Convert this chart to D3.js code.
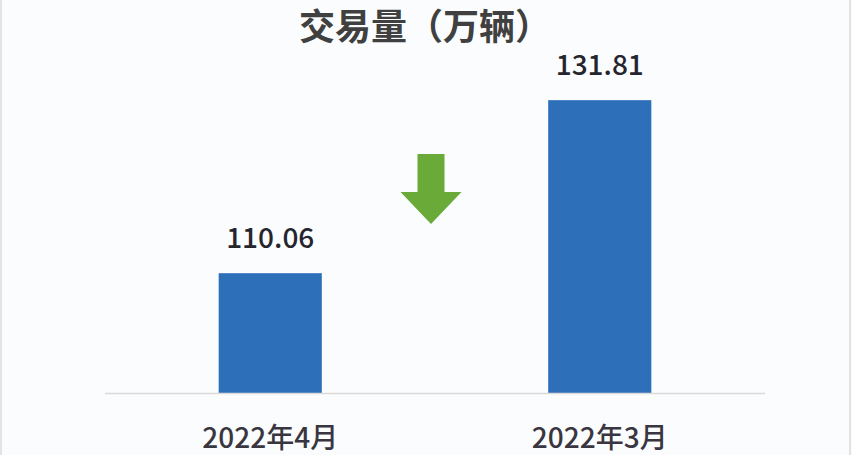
<!DOCTYPE html>
<html>
<head>
<meta charset="utf-8">
<script src="https://cdn.jsdelivr.net/npm/d3@7"></script>
<style>
  html, body { margin: 0; padding: 0; background: #fbfcfd; }
  svg { display: block; }
  text { font-family: "Noto Sans CJK SC", "Noto Sans", sans-serif; }
</style>
</head>
<body>
<svg id="viz"></svg>
<script>
var width = 852;
var height = 455;

var title = "交易量（万辆）";
var months = ["2022年4月", "2022年3月"];
var volumes = [110.06, 131.81];
var yDomain = [95, 140];

var svg = d3.select("#viz")
    .attr("width", width)
    .attr("height", height);

// faint frame of the screenshot
svg.append("rect")
    .attr("x", 1).attr("y", -2)
    .attr("width", 849).attr("height", height + 4)
    .attr("fill", "#fbfcfd")
    .attr("stroke", "#d4d2d6")
    .attr("stroke-width", 1.2);

var x = d3.scaleBand()
    .domain(months)
    .range([105, 765])
    .paddingInner(0.687)
    .paddingOuter(0.345);

var y = d3.scaleLinear()
    .domain(yDomain)
    .range([393, 35]);

// title
svg.append("text")
    .attr("x", 425)
    .attr("y", 40)
    .attr("text-anchor", "middle")
    .attr("font-size", 36)
    .attr("font-weight", "bold")
    .attr("fill", "#404040")
    .text(title);

// bars
svg.selectAll("rect.bar")
    .data(volumes)
    .enter().append("rect")
    .attr("class", "bar")
    .attr("x", function(d, i) { return x(months[i]); })
    .attr("y", function(d) { return y(d); })
    .attr("width", x.bandwidth())
    .attr("height", function(d) { return y(yDomain[0]) - y(d); })
    .attr("fill", "#2e6fba");

// baseline
svg.append("line")
    .attr("x1", 105).attr("x2", 765)
    .attr("y1", y(yDomain[0]) + 0.5).attr("y2", y(yDomain[0]) + 0.5)
    .attr("stroke", "#d9d9d9")
    .attr("stroke-width", 1.5);

// value labels
svg.selectAll("text.val")
    .data(volumes)
    .enter().append("text")
    .attr("class", "val")
    .attr("x", function(d, i) { return x(months[i]) + x.bandwidth() / 2; })
    .attr("y", function(d) { return y(d) - 25; })
    .attr("text-anchor", "middle")
    .attr("font-size", 28)
    .attr("font-weight", 500)
    .attr("fill", "#26252e")
    .text(function(d) { return d.toFixed(2); });

// category labels
var xAxis = svg.append("g")
    .attr("transform", "translate(0," + y(yDomain[0]) + ")")
    .call(d3.axisBottom(x).tickSize(0).tickPadding(0));
xAxis.select(".domain").remove();
xAxis.selectAll("text")
    .attr("y", 55)
    .attr("dy", null)
    .attr("font-size", 28)
    .attr("font-weight", 500)
    .attr("font-family", "\"Noto Sans CJK SC\", sans-serif")
    .attr("fill", "#393641");

// green down arrow between the bars
var ax = (x(months[0]) + x(months[1]) + x.bandwidth()) / 2 - 4;
var ay = 154;
var arrow = [[-13.5, 0], [13.5, 0], [13.5, 38], [30.5, 38], [0, 70], [-30.5, 38], [-13.5, 38]];
svg.append("path")
    .attr("d", d3.line()(arrow.map(function(p) { return [ax + p[0], ay + p[1]]; })) + "Z")
    .attr("fill", "#6aaa38");
</script>
</body>
</html>
